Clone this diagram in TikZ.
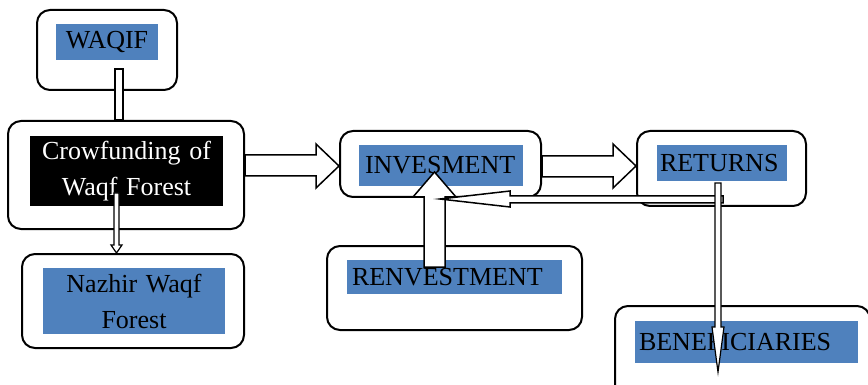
\documentclass[tikz,border=0pt]{standalone}
\usepackage{fontspec}
\setmainfont{Liberation Serif}
\usetikzlibrary{calc}
\definecolor{wblue}{RGB}{79,129,189}
\begin{document}
\begin{tikzpicture}[x=1pt,y=-1pt,
  box/.style={draw=black, line width=2pt, rounded corners=13pt, fill=white, inner sep=0pt},
  lbl/.style={fill=wblue, inner ysep=0pt, font=\fontsize{26}{36}\selectfont},
  blk/.style={draw=black, line width=1.5pt, fill=white, line join=miter}]
\useasboundingbox (0,0) rectangle (868,385);
\clip (0,0) rectangle (868,385);
% outer boxes
\node[box, minimum width=140pt, minimum height=80pt] (waqifbox) at (107,50) {};
\node[box, minimum width=236pt, minimum height=108pt] (crowbox) at (126,175) {};
\node[box, minimum width=222pt, minimum height=94pt] (nazbox) at (133,301) {};
\node[box, minimum width=201pt, minimum height=66pt] (invbox) at (440.5,164) {};
\node[box, minimum width=169pt, minimum height=75pt] (retbox) at (721.5,168.5) {};
\node[box, minimum width=255pt, minimum height=84pt] (renbox) at (454.5,288) {};
\node[box, minimum width=255pt, minimum height=94pt] (benbox) at (742.5,353) {};
% labels
\node[lbl, minimum height=36pt, text width=90pt, inner xsep=6pt, align=center] (waqif) at (107,42) {WAQIF};
\node[lbl, fill=black, text=white, minimum height=70pt, text width=181pt, inner xsep=6pt, align=center] (crow) at (126.5,171) {Crowfunding of\\Waqf Forest};
\node[lbl, minimum height=66pt, text width=170pt, inner xsep=6pt, align=center] (naz) at (134,301) {Nazhir Waqf\\Forest};
\node[lbl, minimum height=41pt, text width=152pt, inner xsep=6pt, align=left] (inv) at (441,165.5) {INVESMENT};
\node[lbl, minimum height=36pt, text width=124pt, inner xsep=3pt, align=left] (ret) at (722,163) {RETURNS};
\node[lbl, minimum height=34pt, text width=205pt, inner xsep=5pt, align=left] (ren) at (454.5,277) {RENVESTMENT};
\node[lbl, minimum height=42pt, text width=215pt, inner xsep=4pt, align=left] (ben) at (746.5,342) {BENEFICIARIES};
% connectors
\draw[blk] (115,69) rectangle (crowbox.north -| 123,0);
\draw[blk, line width=1.2pt] (114,193) -- (119,193) -- (119,245) -- (122,245) -- (nazbox.north -| 116.5,0) -- (111,245) -- (114,245) -- cycle;
\draw[blk] (crowbox.east |- 0,155) -- (316,155) -- (316,144) -- (invbox.west |- 0,166) -- (316,188) -- (316,176) -- (crowbox.east |- 0,176) -- cycle;
\draw[blk] (invbox.east |- 0,156) -- (613,156) -- (613,144) -- (retbox.west |- 0,166) -- (613,188) -- (613,177) -- (invbox.east |- 0,177) -- cycle;
\draw[blk] (424,267) -- (424,197) -- (413,197) -- (434.5,172) -- (456,197) -- (445,197) -- (445,267) -- cycle;
\draw[blk] (723,196) -- (510,196) -- (510,191) -- (440,199) -- (510,207) -- (510,203) -- (723,203) -- cycle;
\draw[blk, line width=1.2pt] (715,183) -- (721,183) -- (721,327) -- (724,327) -- (718,372) -- (712,327) -- (715,327) -- cycle;
\end{tikzpicture}
\end{document}
